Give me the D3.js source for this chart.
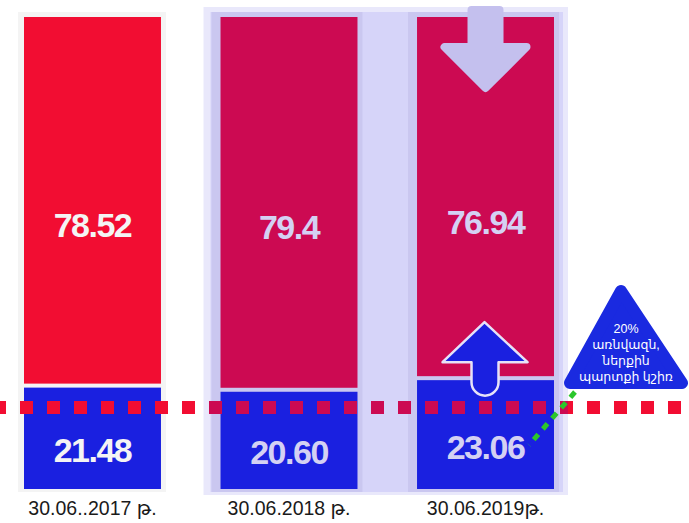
<!DOCTYPE html>
<html>
<head>
<meta charset="utf-8">
<script src="https://cdn.jsdelivr.net/npm/d3@7"></script>
<style>
  body { margin: 0; background: #fff; }
  svg { display: block; font-family: "Liberation Sans", Arial, "DejaVu Sans", sans-serif; }
</style>
</head>
<body>
<div class="chart"></div>
<script>
// Տվյալներ
const categories = ["30.06..2017 թ.", "30.06.2018 թ.", "30.06.2019թ."];
const external = [78.52, 79.4, 76.94];   // արտաքին պարտք (կարմիր)
const internal = [21.48, 20.60, 23.06];  // ներքին պարտք (կապույտ)
const internalLabels = ["21.48", "20.60", "23.06"];
const externalLabels = ["78.52", "79.4", "76.94"];
const threshold = 20;
const noteLines = ["20%", "առնվազն,", "ներքին", "պարտքի կշիռ"];

const width = 689, height = 523;

const svg = d3.select('.chart').append('svg')
    .attr('width', width)
    .attr('height', height);

const x = d3.scaleBand()
    .domain(categories)
    .range([24, 554])
    .paddingInner(0.303)
    .paddingOuter(0);

const y = d3.scaleLinear()
    .domain([0, 100])
    .range([489, 17]);

const bw = x.bandwidth();
const gap = 4;

// ֆոնային վահանակներ
const b0 = x(categories[0]);
svg.append('rect')
    .attr('x', b0 - 6).attr('y', 12)
    .attr('width', bw + 11).attr('height', 480)
    .attr('fill', '#f4f4f4');

const p0 = x(categories[1]) - 17, p1 = x(categories[2]) + bw + 14;
svg.append('rect')
    .attr('x', p0).attr('y', 7)
    .attr('width', p1 - p0).attr('height', 488)
    .attr('fill', '#e9e8fb');
svg.append('rect')
    .attr('x', p0 + 7).attr('y', 12)
    .attr('width', p1 - p0 - 12).attr('height', 480)
    .attr('fill', '#d6d4f9');

svg.selectAll('.strip')
    .data(categories.slice(1))
    .enter()
    .append('rect')
    .attr('x', d => x(d) - 9)
    .attr('y', 12)
    .attr('width', bw + 14)
    .attr('height', 480)
    .attr('fill', '#cac7f0');

const inPanel = i => i > 0;

// կարմիր հատվածներ
svg.selectAll('.red')
    .data(categories)
    .enter()
    .append('rect')
    .attr('x', d => x(d))
    .attr('y', (d, i) => y(internal[i] + external[i]))
    .attr('width', bw)
    .attr('height', (d, i) => y(internal[i]) - gap - y(internal[i] + external[i]))
    .attr('fill', (d, i) => inPanel(i) ? '#cc0a52' : '#f20d32');

// կապույտ հատվածներ
svg.selectAll('.blue')
    .data(categories)
    .enter()
    .append('rect')
    .attr('x', d => x(d))
    .attr('y', (d, i) => y(internal[i]))
    .attr('width', bw)
    .attr('height', (d, i) => y(0) - y(internal[i]))
    .attr('fill', '#1a20e0');

// ներքևի սլաք
const c3 = x(categories[2]) + bw / 2;
svg.append('path')
    .attr('d', d3.line()([
        [c3 - 14, 10], [c3 + 14, 10], [c3 + 14, 47], [c3 + 41, 47],
        [c3, 88], [c3 - 41, 47], [c3 - 14, 47]
    ]) + 'Z')
    .attr('fill', '#c4c0ee')
    .attr('stroke', '#c4c0ee')
    .attr('stroke-width', 8)
    .attr('stroke-linejoin', 'round');

// 20% շեմ
const ty = y(threshold) + 13;
const dash = svg.append('g');
svg.append('clipPath').attr('id', 'panelClip')
    .append('rect').attr('x', p0).attr('y', 0).attr('width', p1 - p0).attr('height', height);
dash.append('line')
    .attr('x1', -7).attr('x2', width)
    .attr('y1', ty).attr('y2', ty)
    .attr('stroke', '#f20d32')
    .attr('stroke-width', 13)
    .attr('stroke-dasharray', '13,14');
dash.append('line')
    .attr('clip-path', 'url(#panelClip)')
    .attr('x1', -7).attr('x2', width)
    .attr('y1', ty).attr('y2', ty)
    .attr('stroke', '#cc0a52')
    .attr('stroke-width', 13)
    .attr('stroke-dasharray', '13,14');

// վերևի սլաք
const bt = y(internal[2]);
svg.append('path')
    .attr('d', 'M' + (c3 - 1) + ',' + (bt - 58) +
        ' L' + (c3 + 42) + ',' + (bt - 18) +
        ' L' + (c3 + 13) + ',' + (bt - 18) +
        ' L' + (c3 + 13) + ',' + (bt + 2) +
        ' A13.5,13.5 0 0 1 ' + (c3 - 14) + ',' + (bt + 2) +
        ' L' + (c3 - 14) + ',' + (bt - 18) +
        ' L' + (c3 - 43) + ',' + (bt - 18) + ' Z')
    .attr('fill', '#1a20e0')
    .attr('stroke', '#e6e2f8')
    .attr('stroke-width', 2.5)
    .attr('stroke-linejoin', 'round');

// արժեքների պիտակներ
svg.selectAll('.lblRed')
    .data(categories)
    .enter()
    .append('text')
    .attr('x', d => x(d) + bw / 2)
    .attr('y', (d, i) => (y(internal[i] + external[i]) + y(internal[i])) / 2 + 23)
    .attr('text-anchor', 'middle')
    .attr('dominant-baseline', 'central')
    .attr('font-size', 34)
    .attr('font-weight', 'bold')
    .attr('letter-spacing', -1.5)
    .attr('fill', (d, i) => inPanel(i) ? '#d4d1f3' : '#f4f4f4')
    .text((d, i) => externalLabels[i]);

svg.selectAll('.lblBlue')
    .data(categories)
    .enter()
    .append('text')
    .attr('x', d => x(d) + bw / 2)
    .attr('y', (d, i) => (y(internal[i]) + y(0)) / 2 + 12)
    .attr('text-anchor', 'middle')
    .attr('dominant-baseline', 'central')
    .attr('font-size', 34)
    .attr('font-weight', 'bold')
    .attr('letter-spacing', -1.5)
    .attr('fill', (d, i) => inPanel(i) ? '#d4d1f3' : '#f4f4f4')
    .text((d, i) => internalLabels[i]);

// կատեգորիաներ
svg.selectAll('.cat')
    .data(categories)
    .enter()
    .append('text')
    .attr('x', d => x(d) + bw / 2)
    .attr('y', 515)
    .attr('text-anchor', 'middle')
    .attr('font-size', 19.5)
    .attr('fill', '#1a1a1a')
    .text(d => d);

// կանաչ կետագիծ
svg.append('line')
    .attr('x1', 575).attr('y1', 392)
    .attr('x2', 529).attr('y2', 445)
    .attr('stroke', '#2bc72b')
    .attr('stroke-width', 5)
    .attr('stroke-dasharray', '7,7');

// եռանկյուն նշում
svg.append('path')
    .attr('d', 'M621,291 L682,383 L570,383 Z')
    .attr('fill', '#1a2ae0')
    .attr('stroke', '#1a2ae0')
    .attr('stroke-width', 12)
    .attr('stroke-linejoin', 'round');

svg.selectAll('.note')
    .data(noteLines)
    .enter()
    .append('text')
    .attr('x', 626)
    .attr('y', (d, i) => 333 + i * 16)
    .attr('text-anchor', 'middle')
    .attr('font-size', 12.5)
    .attr('fill', '#ffffff')
    .text(d => d);
</script>
</body>
</html>
